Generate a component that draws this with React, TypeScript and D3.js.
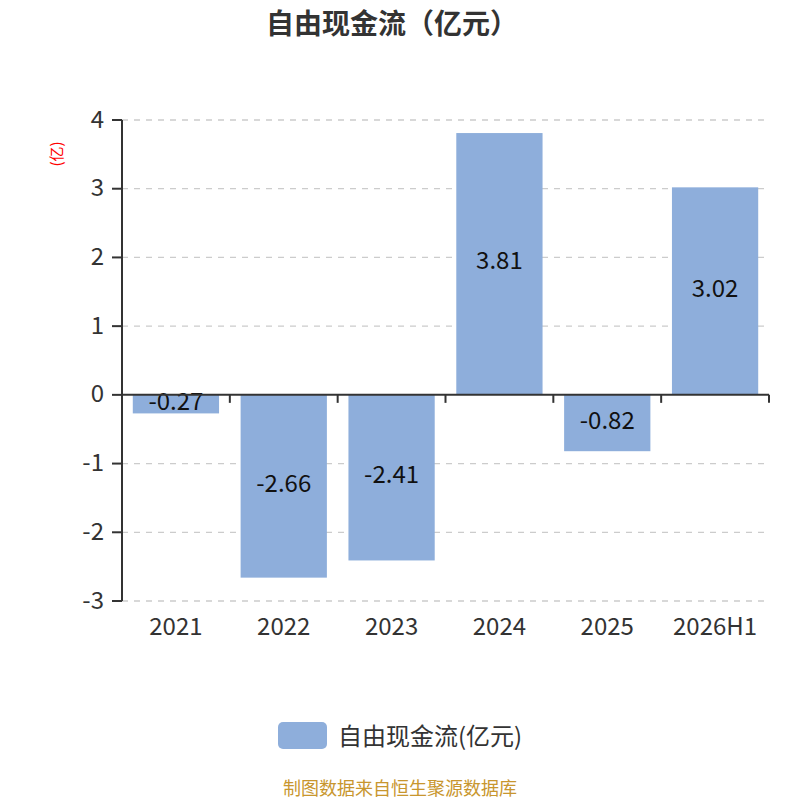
import React from "react";
import * as d3 from "d3";

const categories = ["2021", "2022", "2023", "2024", "2025", "2026H1"];
const values = [-0.27, -2.66, -2.41, 3.81, -0.82, 3.02];
const yTicks = [4, 3, 2, 1, 0, -1, -2, -3];
const title = "自由现金流（亿元）";
const seriesName = "自由现金流(亿元)";
const unitLabel = "(亿)";
const footer = "制图数据来自恒生聚源数据库";

const W = 800;
const H = 800;
const left = 122;
const right = 769;
const top = 120;
const bottom = 601;
const barColor = "#8eaedb";
const font = "'Noto Sans CJK SC', 'Noto Sans', sans-serif";

export default function App() {
  const x = d3.scaleBand<string>().domain(categories).range([left, right]).paddingInner(0.2).paddingOuter(0.1);
  const xb = d3.scaleBand<string>().domain(categories).range([left, right]);
  const y = d3.scaleLinear().domain([-3, 4]).range([bottom, top]);
  const y0 = y(0);

  return (
    <div style={{ position: "absolute", left: 0, top: 0 }}>
      <svg width={W} height={H} style={{ display: "block", fontFamily: font }}>
        <rect width={W} height={H} fill="#fff" />
        <text x={392} y={22} textAnchor="middle" dominantBaseline="central" fontSize={28} fontWeight="bold" fill="#333">
          {title}
        </text>
        {/* grid */}
        {yTicks.filter((t) => t !== 0).map((t) => (
          <line key={"g" + t} x1={left} x2={right} y1={y(t)} y2={y(t)} stroke="#ccc" strokeWidth={1.3} strokeDasharray="6,6" />
        ))}
        {/* bars */}
        {categories.map((c, i) => {
          const v = values[i];
          const y1 = y(Math.max(0, v));
          const y2 = y(Math.min(0, v));
          return (
            <g key={c}>
              <rect x={x(c)} y={y1} width={x.bandwidth()} height={y2 - y1} fill={barColor} />
              <text x={(x(c) as number) + x.bandwidth() / 2} y={(y1 + y2) / 2 - 5} textAnchor="middle" dominantBaseline="central" fontSize={24} fill="#111">
                {v.toFixed(2)}
              </text>
            </g>
          );
        })}
        {/* y axis */}
        <line x1={left} x2={left} y1={top} y2={bottom} stroke="#333" strokeWidth={2} />
        {yTicks.map((t) => (
          <g key={"t" + t}>
            <line x1={left - 10} x2={left} y1={y(t)} y2={y(t)} stroke="#333" strokeWidth={2} />
            <text x={104} y={y(t) - 3} textAnchor="end" dominantBaseline="central" fontSize={24} fill="#333">
              {t}
            </text>
          </g>
        ))}
        <text transform={`translate(55,154) rotate(-90)`} textAnchor="middle" dominantBaseline="central" fontSize={15} fill="#ff0000">
          {unitLabel}
        </text>
        {/* x axis at zero */}
        <line x1={left} x2={right} y1={y0} y2={y0} stroke="#333" strokeWidth={2} />
        {categories.map((c) => (
          <line key={"xt" + c} x1={xb(c) as number} x2={xb(c) as number} y1={y0} y2={y0 + 8} stroke="#333" strokeWidth={2} />
        ))}
        <line x1={right} x2={right} y1={y0} y2={y0 + 8} stroke="#333" strokeWidth={2} />
        {categories.map((c) => (
          <text key={"xl" + c} x={(xb(c) as number) + xb.bandwidth() / 2} y={624} textAnchor="middle" dominantBaseline="central" fontSize={24} fill="#333">
            {c}
          </text>
        ))}
        {/* legend */}
        <rect x={278} y={722} width={49} height={27} rx={5} fill={barColor} />
        <text x={338} y={734} dominantBaseline="central" fontSize={24} fill="#333">
          {seriesName}
        </text>
        <text x={400} y={787} textAnchor="middle" dominantBaseline="central" fontSize={18} fill="#c8962e">
          {footer}
        </text>
      </svg>
    </div>
  );
}
